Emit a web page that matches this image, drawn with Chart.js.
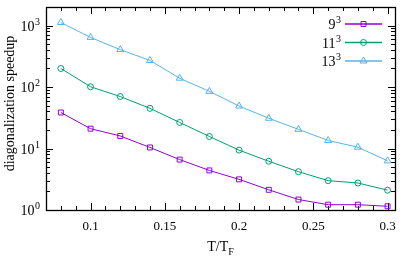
<!DOCTYPE html>
<html>
<head>
<meta charset="utf-8">
<script src="https://cdn.jsdelivr.net/npm/chart.js@4"></script>
<style>
  html, body { margin: 0; background: #fff; }
  #wrap { width: 415px; height: 256px; }
</style>
</head>
<body>
<div id="wrap"><canvas id="c"></canvas></div>
<script>
// data
const temps = [0.08, 0.10, 0.12, 0.14, 0.16, 0.18, 0.20, 0.22, 0.24, 0.26, 0.28, 0.30];
const speedup9  = [38.5, 21, 16, 10.4, 6.6, 4.4, 3.15, 2.13, 1.48, 1.22, 1.22, 1.15];
const speedup11 = [200, 101, 70, 45, 26.5, 15.7, 9.4, 6.2, 4.2, 3.0, 2.75, 2.1];
const speedup13 = [1120, 640, 405, 270, 139, 85, 49, 31, 20.5, 13.5, 10.5, 6.3];
const seriesNames = ["9³", "11³", "13³"];
const xTicks = [0.1, 0.15, 0.2, 0.25, 0.3];
const yTicks = [1, 10, 100, 1000];
const yTickLabels = ["10⁰", "10¹", "10²", "10³"];

const FONT = "'Liberation Serif', 'DejaVu Serif', serif";
const SUP = { "⁰": "0", "¹": "1", "²": "2", "³": "3" };

function pts(vals) {
  return temps.map((t, i) => ({ x: t, y: vals[i] }));
}

function series(label, vals, color, style, radius) {
  return {
    label,
    data: pts(vals),
    borderColor: color,
    backgroundColor: "transparent",
    borderWidth: 1,
    pointStyle: style,
    pointRadius: radius,
    pointBorderWidth: 1,
    pointBackgroundColor: "transparent",
    pointBorderColor: color
  };
}

// draw "10³" style text right-aligned, exponent as a real raised number
function drawPow(ctx, text, xRight, y) {
  const last = text.slice(-1);
  const base = SUP[last] ? text.slice(0, -1) : text;
  const exp = SUP[last] || "";
  ctx.textAlign = "left";
  ctx.textBaseline = "alphabetic";
  ctx.font = "10px " + FONT;
  const we = ctx.measureText(exp).width;
  ctx.font = "14px " + FONT;
  const wb = ctx.measureText(base).width;
  const x0 = xRight - we - wb - 0.5;
  ctx.fillText(base, x0, y + 5);
  ctx.font = "10px " + FONT;
  ctx.fillText(exp, x0 + wb + 0.5, y - 1);
}

/* ===============================
   FRAME + INWARD TICKS (gnuplot look)
   =============================== */
const framePlugin = {
  id: "frame",
  beforeDatasetsDraw(chart) {
    const { ctx, chartArea: a, scales } = chart;
    ctx.save();
    ctx.strokeStyle = "#000";
    ctx.lineWidth = 1;
    ctx.beginPath();

    // x ticks every 0.01, long every 0.05
    for (let i = 7; i <= 30; i++) {
      const px = Math.round(scales.x.getPixelForValue(i / 100)) + 0.5;
      const len = i % 5 === 0 ? 7 : 4;
      ctx.moveTo(px, a.bottom); ctx.lineTo(px, a.bottom - len);
      ctx.moveTo(px, a.top); ctx.lineTo(px, a.top + len);
    }

    // y log ticks
    for (let k = 0; k <= 3; k++) {
      for (let m = 1; m <= 9; m++) {
        const v = m * Math.pow(10, k);
        if (v > scales.y.max) break;
        const py = Math.round(scales.y.getPixelForValue(v)) + 0.5;
        const len = m === 1 ? 7 : 4;
        ctx.moveTo(a.left, py); ctx.lineTo(a.left + len, py);
        ctx.moveTo(a.right, py); ctx.lineTo(a.right - len, py);
      }
    }
    ctx.stroke();

    ctx.lineWidth = 1.3;
    ctx.strokeRect(Math.round(a.left) + 0.5, Math.round(a.top) + 0.5,
      Math.round(a.right - a.left), Math.round(a.bottom - a.top));
    ctx.restore();
  }
};

/* ===============================
   AXIS TITLES, Y LABELS, LEGEND
   =============================== */
const labelsPlugin = {
  id: "labels",
  afterDraw(chart) {
    const { ctx, chartArea: a, scales } = chart;
    ctx.save();
    ctx.fillStyle = "#000";

    // y tick labels
    yTicks.forEach((v, i) => {
      drawPow(ctx, yTickLabels[i], a.left - 6, scales.y.getPixelForValue(v));
    });

    // y title
    ctx.font = "14px " + FONT;
    ctx.textAlign = "center";
    ctx.textBaseline = "middle";
    ctx.translate(10, (a.top + a.bottom) / 2 - 5);
    ctx.rotate(-Math.PI / 2);
    ctx.fillText("diagonalization speedup", 0, 0);
    ctx.setTransform(1, 0, 0, 1, 0, 0);

    // x title T/T_F
    const cx = (a.left + a.right) / 2;
    ctx.font = "14px " + FONT;
    ctx.textAlign = "left";
    ctx.textBaseline = "alphabetic";
    const main = "T/T";
    const wMain = ctx.measureText(main).width;
    ctx.font = "10px " + FONT;
    const wSub = ctx.measureText("F").width;
    const x0 = cx - (wMain + wSub) / 2;
    ctx.font = "14px " + FONT;
    ctx.fillText(main, x0, 251);
    ctx.font = "10px " + FONT;
    ctx.fillText("F", x0 + wMain, 255);

    // legend, top right inside
    chart.data.datasets.forEach((ds, i) => {
      const y = a.top + 17 + i * 18.5;
      ctx.fillStyle = "#000";
      drawPow(ctx, ds.label, a.right - 54, y);
      ctx.strokeStyle = ds.borderColor;
      ctx.lineWidth = 1.5;
      ctx.beginPath();
      ctx.moveTo(a.right - 50, y);
      ctx.lineTo(a.right - 13, y);
      ctx.stroke();
      ctx.lineWidth = 1;
      ctx.fillStyle = "rgba(0,0,0,0)";
      Chart.helpers.drawPoint(ctx, {
        pointStyle: ds.pointStyle,
        radius: ds.pointRadius,
        borderWidth: 1,
        rotation: 0
      }, a.right - 31.5, y);
    });
    ctx.restore();
  }
};

new Chart(document.getElementById("c"), {
  type: "line",
  data: {
    datasets: [
      series(seriesNames[0], speedup9, "#9400d3", "rect", 3.5),
      series(seriesNames[1], speedup11, "#009e73", "circle", 3),
      series(seriesNames[2], speedup13, "#56b4e9", "triangle", 4)
    ]
  },
  options: {
    responsive: true,
    maintainAspectRatio: false,
    animation: false,
    layout: { padding: { top: 7, right: 20, left: 0, bottom: 0 } },
    plugins: { legend: { display: false }, tooltip: { enabled: false } },
    scales: {
      x: {
        type: "linear",
        min: 0.07,
        max: 0.305,
        afterBuildTicks: s => { s.ticks = xTicks.map(v => ({ value: v })); },
        afterFit: s => { s.height = 46; },
        grid: { display: false, drawTicks: false },
        border: { display: false },
        ticks: {
          padding: 9,
          color: "#000",
          font: { family: FONT, size: 13 },
          callback: v => String(v)
        }
      },
      y: {
        type: "logarithmic",
        min: 1,
        max: 2000,
        afterBuildTicks: s => { s.ticks = yTicks.map(v => ({ value: v })); },
        afterFit: s => { s.width = 46; },
        grid: { display: false, drawTicks: false },
        border: { display: false },
        ticks: { display: false }
      }
    }
  },
  plugins: [framePlugin, labelsPlugin]
});
</script>
</body>
</html>
